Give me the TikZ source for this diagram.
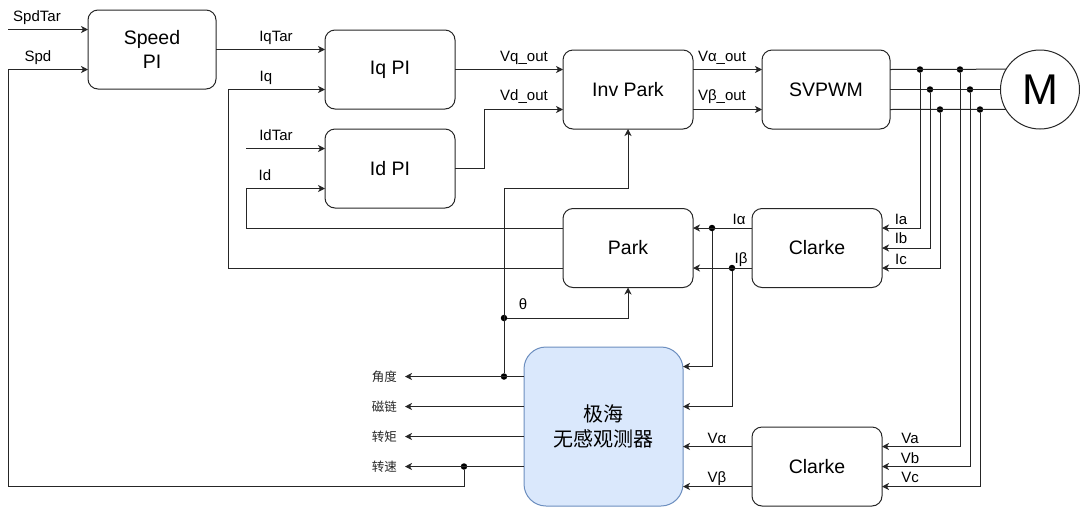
\documentclass[tikz,border=0pt]{standalone}
\usepackage{fontspec}
\setmainfont{Liberation Sans}
\newfontfamily\cjk{Noto Sans CJK SC}
\usetikzlibrary{
		positioning,
		arrows.meta,
		calc
	}
\definecolor{obsfill}{RGB}{218,232,252}
\definecolor{obsline}{RGB}{108,142,191}
\tikzset{
		>={Stealth[length=7pt,width=7pt,inset=2pt]}
	}
\tikzset{
	block/.style={draw=black!85, line width=1pt, rounded corners=10pt, minimum width=130pt, minimum height=79pt, inner sep=0pt, outer sep=0pt, align=center, font=\fontsize{19.5}{24}\selectfont},
	wire/.style={draw=black!85, line width=1pt},
	lbl/.style={anchor=base, inner sep=0pt, font=\fontsize{15}{17}\selectfont},
	cnlbl/.style={anchor=east, inner sep=0pt, text=black!85, font=\cjk\fontsize{12.5}{14}\selectfont},
	dot/.style={circle, fill=black, inner sep=0pt, minimum size=6.5pt}
}

\begin{document}
\begin{tikzpicture}[x=1pt, y=-1pt]
		\useasboundingbox (0,0) rectangle (1080,507);
		% blocks
		\node[block, minimum width=128pt] (speedpi) at (152,49.5) {Speed\\PI};
		\node[block] (iqpi) at (390,69.5) {Iq PI};
		\node[block] (idpi) at (390,168.5) {Id PI};
		\node[block] (invpark) at (628,89.5) {Inv Park};
		\node[block, minimum width=128pt] (svpwm) at (826,89.5) {SVPWM};
		\node[draw=black!85, line width=1pt, circle, minimum size=79pt, inner sep=0pt, outer sep=0pt, font=\fontsize{43}{45}\selectfont] (motor) at (1040,89.5) {M};
		\node[block] (park) at (628,248) {Park};
		\node[block] (clarkei) at (817,248) {Clarke};
		\node[block, minimum width=159pt, minimum height=159pt, rounded corners=22pt, fill=obsfill, draw=obsline, font=\cjk\fontsize{20}{25}\selectfont] (observer) at (603.5,426.5) {极海\\无感观测器};
		\node[block] (clarkev) at (817,466.5) {Clarke};
		% junctions
		\node[dot] (dia) at (920,69.5) {};
		\node[dot] (dib) at (930,89.5) {};
		\node[dot] (dic) at (940,109.5) {};
		\node[dot] (dva) at (960,69.5) {};
		\node[dot] (dvb) at (970,89.5) {};
		\node[dot] (dvc) at (980,109.5) {};
		\node[dot] (dialpha) at (712,228) {};
		\node[dot] (dibeta) at (732,268) {};
		\node[dot] (dang) at (504,376.5) {};
		\node[dot] (dtheta) at (504,318) {};
		\node[dot] (dspd) at (464,466.5) {};
		% free ends
		\coordinate (spdtarin) at (8,29.5);
		\coordinate (idtarin) at (246,148.5);
		\coordinate (oang) at (405,376.5);
		\coordinate (oflux) at (405,406.5);
		\coordinate (otorq) at (405,436.5);
		\coordinate (ospd) at (405,466.5);
		% speed loop
		\draw[wire,->] (spdtarin) -- ([yshift=20pt]speedpi.west);
		\draw[wire,->] (dspd) |- (8,486) -- (8,69.5) -- ([yshift=-20pt]speedpi.west);
		\draw[wire,->] (speedpi.east) -- ([yshift=20pt]iqpi.west);
		% current loops
		\draw[wire,->] ([yshift=-20pt]park.west) -| (228,89.5) -- ([yshift=-20pt]iqpi.west);
		\draw[wire,->] (idtarin) -- ([yshift=20pt]idpi.west);
		\draw[wire,->] ([yshift=20pt]park.west) -| (246,188.5) -- ([yshift=-20pt]idpi.west);
		\draw[wire,->] (iqpi.east) -- ([yshift=20pt]invpark.west);
		\draw[wire,->] (idpi.east) -- (484,168.5) |- ([yshift=-20pt]invpark.west);
		\draw[wire,->] ([yshift=20pt]invpark.east) -- ([yshift=20pt]svpwm.west);
		\draw[wire,->] ([yshift=-20pt]invpark.east) -- ([yshift=-20pt]svpwm.west);
		% phases to motor
		\draw[wire] ([yshift=20pt]svpwm.east) -- (motor.149.6);
		\draw[wire] (svpwm.east) -- (motor.west);
		\draw[wire] ([yshift=-20pt]svpwm.east) -- (motor.210.4);
		\draw[wire,->] (dia) |- ([yshift=20pt]clarkei.east);
		\draw[wire,->] (dib) |- (clarkei.east);
		\draw[wire,->] (dic) |- ([yshift=-20pt]clarkei.east);
		\draw[wire,->] (dva) |- ([yshift=20pt]clarkev.east);
		\draw[wire,->] (dvb) |- (clarkev.east);
		\draw[wire,->] (dvc) |- ([yshift=-20pt]clarkev.east);
		% clarke outputs
		\draw[wire,->] ([yshift=20pt]clarkei.west) -- ([yshift=20pt]park.east);
		\draw[wire,->] ([yshift=-20pt]clarkei.west) -- ([yshift=-20pt]park.east);
		\draw[wire,->] (dialpha) |- ([yshift=60pt]observer.east);
		\draw[wire,->] (dibeta) |- ([yshift=20pt]observer.east);
		\draw[wire,->] ([yshift=20pt]clarkev.west) -- ([yshift=-20pt]observer.east);
		\draw[wire,->] ([yshift=-20pt]clarkev.west) -- ([yshift=-60pt]observer.east);
		% observer outputs
		\draw[wire,->] ([yshift=50pt]observer.west) -- (oang);
		\draw[wire,->] ([yshift=20pt]observer.west) -- (oflux);
		\draw[wire,->] ([yshift=-10pt]observer.west) -- (otorq);
		\draw[wire,->] ([yshift=-40pt]observer.west) -- (ospd);
		\draw[wire,->] (dang) -- (504,188.5) -| (invpark.south);
		\draw[wire,->] (dtheta) -| (park.south);
		% labels
		\node[lbl] (lspdtar) at (37,21) {SpdTar};
		\node[lbl] (lspd) at (38,61) {Spd};
		\node[lbl] (liqtar) at (276,41) {IqTar};
		\node[lbl] (liq) at (266,81) {Iq};
		\node[lbl] (lidtar) at (276,140) {IdTar};
		\node[lbl] (lid) at (265,180) {Id};
		\node[lbl] (lvq) at (524,61) {Vq\_out};
		\node[lbl] (lvd) at (524,100) {Vd\_out};
		\node[lbl] (lvalphaout) at (722,61) {Vα\_out};
		\node[lbl] (lvbetaout) at (722,100) {Vβ\_out};
		\node[lbl] (lia) at (901,224) {Ia};
		\node[lbl] (lib) at (901,243) {Ib};
		\node[lbl] (lic) at (901,264) {Ic};
		\node[lbl] (lialpha) at (739,224) {Iα};
		\node[lbl] (libeta) at (741,263) {Iβ};
		\node[lbl] (ltheta) at (523,309) {θ};
		\node[lbl] (lva) at (910,443) {Va};
		\node[lbl] (lvb) at (910,463) {Vb};
		\node[lbl] (lvc) at (910,482) {Vc};
		\node[lbl] (lvalpha) at (717,443) {Vα};
		\node[lbl] (lvbeta) at (717,482) {Vβ};
		\node[cnlbl] (lang) at ([xshift=-8pt]oang) {角度};
		\node[cnlbl] (lflux) at ([xshift=-8pt]oflux) {磁链};
		\node[cnlbl] (ltorq) at ([xshift=-8pt]otorq) {转矩};
		\node[cnlbl] (lspdout) at ([xshift=-8pt]ospd) {转速};
	\end{tikzpicture}
\end{document}
